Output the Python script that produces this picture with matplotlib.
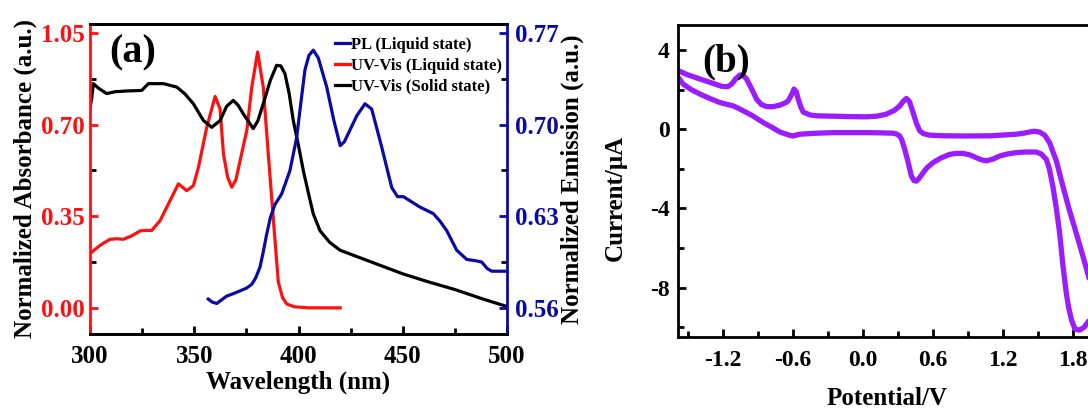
import matplotlib
matplotlib.use("Agg")
import matplotlib.pyplot as plt
from matplotlib.ticker import MultipleLocator, FormatStrFormatter

plt.rcParams["font.family"] = ["Liberation Serif", "DejaVu Serif"]
plt.rcParams["font.weight"] = "bold"
plt.rcParams["axes.labelweight"] = "bold"
plt.rcParams["axes.unicode_minus"] = False

# (a) UV-Vis, liquid state (left axis)
uv_liq_nm = [300, 301.6, 305, 309.6, 313, 316, 320, 324, 327, 329.6, 333.6, 338.4,
             342.4, 346.4, 349.6, 352, 356, 360, 362.4, 364, 366, 368, 370, 372,
             375.2, 377.6, 380.4, 383.1, 385.5, 388, 390.3, 392.3, 394.3, 398, 405, 420]
uv_liq_abs = [0.207, 0.218, 0.24, 0.262, 0.264, 0.262, 0.275, 0.294, 0.296, 0.296, 0.333, 0.41,
              0.474, 0.448, 0.467, 0.537, 0.69, 0.808, 0.76, 0.589, 0.5, 0.461, 0.49, 0.563,
              0.678, 0.844, 0.978, 0.844, 0.589, 0.333, 0.10, 0.04, 0.015, 0.004, 0.0, 0.0]

# (a) UV-Vis, solid state (left axis)
uv_sol_nm = [300, 300.8, 301.6, 304, 308, 312, 317.6, 324.8, 328, 335.2, 341.6, 345.5,
             349.6, 354.4, 358.4, 362.4, 365.5, 368.7, 371, 373.5, 378.3, 380.5, 383.1,
             386.5, 389.5, 391.5, 393.5, 395.5, 397.5, 400, 402.3, 405, 407.1, 410.3,
             415, 420, 430, 440, 450, 462, 475, 488, 500]
uv_sol_abs = [0.765, 0.80, 0.857, 0.84, 0.819, 0.826, 0.829, 0.831, 0.857, 0.857, 0.844, 0.818,
              0.780, 0.716, 0.69, 0.716, 0.77, 0.793, 0.775, 0.742, 0.685, 0.715, 0.780,
              0.87, 0.927, 0.925, 0.895, 0.82, 0.716, 0.62, 0.525, 0.43, 0.359, 0.295,
              0.25, 0.22, 0.19, 0.16, 0.13, 0.10, 0.07, 0.035, 0.005]

# (a) PL, liquid state (right axis)
pl_nm = [356.7, 358.5, 360.8, 363, 365.6, 369, 372, 375, 377.6, 379.5, 381.5, 383,
         384.7, 386.5, 388.7, 391.9, 395.9, 399.1, 401, 403.1, 405, 407.1, 409.5,
         413.5, 417, 420, 422, 424.7, 428, 431.9, 435.1, 439.9, 444.7, 447.5, 450.3,
         458.3, 464.7, 468, 471.1, 475.9, 480.7, 485, 487.9, 490.5, 492.7, 499]
pl_em = [0.5667, 0.5645, 0.5633, 0.566, 0.569, 0.571, 0.573, 0.575, 0.578, 0.583, 0.591, 0.602,
         0.616, 0.629, 0.639, 0.647, 0.665, 0.690, 0.715, 0.742, 0.753, 0.757, 0.751,
         0.729, 0.703, 0.684, 0.687, 0.696, 0.707, 0.716, 0.712, 0.683, 0.652, 0.645, 0.645,
         0.637, 0.632, 0.626, 0.619, 0.604, 0.597, 0.596, 0.595, 0.59, 0.588, 0.588]

# (b) cyclic voltammogram, forward then reverse sweep
cv_v = [-1.6, -1.583, -1.5, -1.397, -1.3, -1.211, -1.16, -1.125, -1.09, -1.054, -1.03,
        -0.997, -0.95, -0.911, -0.87, -0.826, -0.77, -0.711, -0.66, -0.64, -0.61, -0.59,
        -0.57, -0.554, -0.53, -0.51, -0.45, -0.397, -0.25, -0.11, 0.03, 0.12, 0.2, 0.27,
        0.317, 0.345, 0.374, 0.40, 0.431, 0.46, 0.488, 0.52, 0.574, 0.7, 0.888, 1.1,
        1.317, 1.38, 1.43, 1.47, 1.517, 1.56, 1.602, 1.66, 1.716, 1.77, 1.83, 1.88,
        1.93, 1.97, 1.995, 2.0, 1.985, 1.96, 1.93, 1.9, 1.86, 1.82, 1.79, 1.765, 1.745,
        1.715, 1.688, 1.66, 1.63, 1.6, 1.574, 1.53, 1.488, 1.4, 1.317, 1.24, 1.174, 1.12,
        1.06, 1.02, 0.974, 0.92, 0.86, 0.8, 0.745, 0.67, 0.602, 0.55, 0.517, 0.48, 0.46,
        0.44, 0.417, 0.39, 0.36, 0.335, 0.317, 0.29, 0.26, 0.15, 0.03, -0.11, -0.254,
        -0.4, -0.54, -0.575, -0.597, -0.63, -0.711, -0.78, -0.854, -0.95, -1.054, -1.111,
        -1.226, -1.31, -1.397, -1.47, -1.54, -1.583, -1.6]
cv_i = [3.05, 2.96, 2.75, 2.54, 2.35, 2.17, 2.15, 2.28, 2.55, 2.74, 2.75, 2.54, 2.0, 1.52,
        1.25, 1.15, 1.14, 1.22, 1.35, 1.44, 1.75, 2.03, 1.9, 1.52, 1.1, 0.86, 0.72, 0.68,
        0.66, 0.64, 0.63, 0.66, 0.76, 0.95, 1.18, 1.4, 1.56, 1.4, 0.85, 0.3, -0.08, -0.22,
        -0.3, -0.33, -0.34, -0.33, -0.25, -0.2, -0.14, -0.1, -0.14, -0.3, -0.68, -1.6,
        -2.88, -4.05, -5.24, -6.25, -7.3, -8.2, -8.8, -9.1, -9.35, -9.55, -9.75, -10.0,
        -10.15, -10.1, -9.64, -9.0, -8.28, -6.8, -5.24, -4.0, -2.88, -2.0, -1.52, -1.25,
        -1.15, -1.15, -1.18, -1.25, -1.35, -1.5, -1.6, -1.55, -1.44, -1.3, -1.22, -1.22,
        -1.27, -1.45, -1.69, -1.95, -2.2, -2.5, -2.62, -2.6, -2.37, -1.7, -1.02, -0.55,
        -0.34, -0.24, -0.2, -0.18, -0.17, -0.17, -0.17, -0.2, -0.25, -0.3, -0.34, -0.3,
        -0.14, 0.1, 0.34, 0.7, 1.02, 1.18, 1.35, 1.55, 1.78, 2.0, 2.28, 2.62, 2.75]

RED = "#ff1010"
BLUE = "#0a0aa8"
PURPLE = "#9a1cff"
SPINE_W = 2.0

fig = plt.figure(figsize=(10.88, 4.09), dpi=100)

# ---------------- panel (a) ----------------
ax = fig.add_axes([90 / 1088, 1 - 334 / 409, 417 / 1088, 310 / 409])
ax2 = ax.twinx()

l_uvl, = ax.plot(uv_liq_nm, uv_liq_abs, color=RED, lw=2.3, label="UV-Vis (Liquid state)")
l_uvs, = ax.plot(uv_sol_nm, uv_sol_abs, color="black", lw=2.3, label="UV-Vis (Solid state)")
l_pl, = ax2.plot(pl_nm, pl_em, color=BLUE, lw=2.3, label="PL (Liquid state)")

ax.set_xlim(300, 500)
ax.set_ylim(-0.1, 1.085)
ax2.set_ylim(0.54, 0.777)

ax.xaxis.set_major_locator(MultipleLocator(50))
ax.xaxis.set_minor_locator(MultipleLocator(25))
ax.yaxis.set_major_locator(MultipleLocator(0.35))
ax.yaxis.set_minor_locator(MultipleLocator(0.175))
ax.yaxis.set_major_formatter(FormatStrFormatter("%.2f"))
ax2.yaxis.set_major_locator(MultipleLocator(0.07))
ax2.yaxis.set_minor_locator(MultipleLocator(0.035))
ax2.yaxis.set_major_formatter(FormatStrFormatter("%.2f"))
ax2.set_yticks([0.56, 0.63, 0.70, 0.77])

for a in (ax, ax2):
    a.tick_params(which="both", direction="in", width=2, labelsize=18)
    a.tick_params(which="major", length=6)
    a.tick_params(which="minor", length=4)
    for s in a.spines.values():
        s.set_linewidth(SPINE_W)
ax.tick_params(axis="y", colors=RED, labelcolor=RED)
ax.tick_params(axis="x", top=False, pad=8)
ax2.tick_params(axis="y", colors=BLUE, labelcolor=BLUE, pad=6)
ax.spines["left"].set_color(RED)
ax.spines["right"].set_visible(False)
ax2.spines["right"].set_color(BLUE)
ax2.spines["left"].set_visible(False)

ax.set_xlabel("Wavelength (nm)", fontsize=18, labelpad=2)
ax.set_ylabel("Normalized Absorbance (a.u.)", fontsize=18, labelpad=3)
ax2.set_ylabel("Normalized Emission (a.u.)", fontsize=18, labelpad=1)
ax.text(0.045, 0.965, "(a)", transform=ax.transAxes, fontsize=29, va="top", ha="left")

ax2.legend(handles=[l_pl, l_uvl, l_uvs], loc="upper right", frameon=False,
           fontsize=12, handlelength=0.9, handletextpad=0.1, labelspacing=0.3,
           borderaxespad=0.0, bbox_to_anchor=(1.005, 0.98))

# ---------------- panel (b) ----------------
bx = fig.add_axes([678 / 1088, 1 - 337 / 409, 418 / 1088, 312 / 409])
bx.plot(cv_v, cv_i, color=PURPLE, lw=3.8, solid_joinstyle="round", solid_capstyle="round")
bx.set_xlim(-1.585, 2.0)
bx.set_ylim(-10.5, 5.27)
bx.xaxis.set_major_locator(MultipleLocator(0.6))
bx.xaxis.set_minor_locator(MultipleLocator(0.3))
bx.yaxis.set_major_locator(MultipleLocator(4))
bx.yaxis.set_minor_locator(MultipleLocator(2))
bx.xaxis.set_major_formatter(FormatStrFormatter("%.1f"))
bx.tick_params(which="both", direction="in", width=2, labelsize=17)
bx.tick_params(which="major", length=6)
bx.tick_params(which="minor", length=4)
bx.tick_params(axis="x", pad=9)
bx.tick_params(axis="y", pad=6)
for s in bx.spines.values():
    s.set_linewidth(SPINE_W)
bx.set_xlabel("Potential/V", fontsize=18, labelpad=12)
bx.set_ylabel("Current/\u03bcA", fontsize=18, labelpad=17)
bx.yaxis.label.set_y(0.445)
bx.text(0.057, 0.94, "(b)", transform=bx.transAxes, fontsize=28, va="top", ha="left")

fig.savefig("out.png", dpi=100)
